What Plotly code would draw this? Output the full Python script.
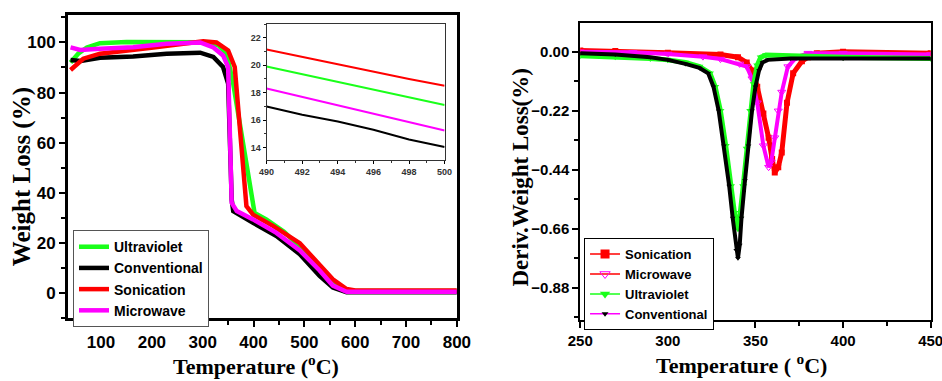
import plotly.graph_objects as go

# ---------------- TGA (left) ----------------
T_uv = [40, 55, 72, 98, 150, 200, 250, 300, 330, 347, 360, 380, 402, 425, 460, 491, 520, 556, 583, 600, 700, 800]
W_uv = [92, 95.5, 98, 99.7, 100.2, 100.2, 100.1, 100.1, 99, 95.5, 83.6, 58, 32, 29.4, 24.5, 18.5, 11.5, 4.5, 1.2, 0.8, 0.8, 0.8]

T_conv = [40, 60, 98, 163, 229, 295, 321, 340, 350, 353, 357, 360, 380, 399, 445, 491, 530, 556, 583, 600, 700, 800]
W_conv = [93, 92.6, 93.9, 94.4, 95.5, 95.9, 94.2, 90.2, 83.6, 63.8, 37.3, 32.7, 30.2, 28, 22.8, 15.5, 6.9, 2.2, 0.3, 0.3, 0.3, 0.3]

T_son = [40, 65, 98, 163, 203, 262, 301, 327, 350, 363, 370, 386, 399, 439, 491, 530, 556, 583, 600, 700, 800]
W_son = [89, 93.5, 95.5, 96.8, 98, 99.5, 100.5, 100, 96.8, 90.2, 73, 34.7, 31.3, 26.7, 19.9, 11.5, 5.5, 1.6, 1.0, 1.0, 1.0]

T_mw = [40, 59, 98, 163, 229, 268, 295, 321, 340, 350, 353, 357, 367, 399, 445, 491, 530, 556, 583, 600, 700, 800]
W_mw = [98, 97, 97.5, 98.1, 99.5, 100, 100, 98, 94.8, 90.2, 63.8, 36, 32.7, 29.4, 24, 17, 9, 3, 0.5, 0.5, 0.5, 0.5]

# inset (490-500 C)
T_in = [490, 492, 494, 496, 498, 500]
W_in_son = [21.15, 20.6, 20.05, 19.5, 19.0, 18.5]
W_in_uv = [19.9, 19.35, 18.8, 18.2, 17.65, 17.1]
W_in_mw = [18.3, 17.7, 17.1, 16.5, 15.85, 15.25]
W_in_conv = [17.0, 16.4, 15.9, 15.3, 14.6, 14.05]

# ---------------- DTG (right) ----------------
D_T_son = [250, 270, 300, 330, 340, 345, 348, 351, 354.5, 357.5, 359.5, 361, 363, 365, 368, 371.5, 376.5, 380, 385, 400, 450]
D_son = [0.005, 0.003, -0.003, -0.01, -0.02, -0.04, -0.07, -0.13, -0.23, -0.32, -0.40, -0.45, -0.43, -0.375, -0.19, -0.08, -0.035, -0.02, -0.005, 0.0, -0.005]

D_T_mw = [250, 280, 300, 320, 330, 341, 345, 348, 351, 354.5, 357.5, 359, 361, 363, 365, 368.5, 373.5, 380, 400, 450]
D_mw = [0.0, -0.002, -0.008, -0.018, -0.027, -0.045, -0.055, -0.1, -0.19, -0.35, -0.43, -0.41, -0.32, -0.22, -0.15, -0.055, -0.02, -0.005, -0.005, -0.01]

D_T_uv = [250, 270, 290, 300, 310, 318, 324, 327, 330, 333, 336, 338, 340, 341, 343, 345, 347, 349, 351, 353, 356, 370, 400, 450]
D_uv = [-0.015, -0.018, -0.025, -0.03, -0.04, -0.055, -0.08, -0.13, -0.22, -0.35, -0.5, -0.6, -0.66, -0.62, -0.5, -0.36, -0.22, -0.12, -0.05, -0.02, -0.012, -0.015, -0.02, -0.025]

D_T_conv = [250, 270, 290, 300, 310, 318, 323, 326, 329, 332, 335, 337, 339, 340, 341, 342, 344, 346, 348, 350, 352, 354, 357, 370, 400, 450]
D_conv = [-0.005, -0.01, -0.02, -0.03, -0.045, -0.06, -0.08, -0.13, -0.22, -0.35, -0.5, -0.62, -0.74, -0.77, -0.72, -0.62, -0.48, -0.35, -0.22, -0.13, -0.07, -0.04, -0.03, -0.025, -0.025, -0.025]

GREEN = "#1aff1a"
BLACK = "#000000"
RED = "#ff0000"
MAG = "#ff00ff"

fig = go.Figure()

# left panel
for name, xs, ys, col in [("Ultraviolet", T_uv, W_uv, GREEN),
                          ("Conventional", T_conv, W_conv, BLACK),
                          ("Sonication", T_son, W_son, RED),
                          ("Microwave", T_mw, W_mw, MAG)]:
    fig.add_trace(go.Scatter(x=xs, y=ys, mode="lines", name=name,
                             line=dict(color=col, width=4.5),
                             xaxis="x", yaxis="y", legend="legend"))

# inset
for xs, ys, col in [(T_in, W_in_son, RED), (T_in, W_in_uv, GREEN),
                    (T_in, W_in_mw, MAG), (T_in, W_in_conv, BLACK)]:
    fig.add_trace(go.Scatter(x=xs, y=ys, mode="lines", showlegend=False,
                             line=dict(color=col, width=2),
                             xaxis="x3", yaxis="y3"))

# right panel data
for xs, ys, col, sym, sz, lw in [(D_T_son, D_son, RED, "square", 6, 5),
                                 (D_T_mw, D_mw, MAG, "triangle-down-open", 7, 4),
                                 (D_T_uv, D_uv, GREEN, "triangle-down", 7, 5),
                                 (D_T_conv, D_conv, BLACK, "triangle-down", 5, 4)]:
    fig.add_trace(go.Scatter(x=xs, y=ys, mode="lines+markers", showlegend=False,
                             line=dict(color=col, width=lw),
                             marker=dict(color=col, symbol=sym, size=sz),
                             xaxis="x2", yaxis="y2"))

# right panel legend entries
for name, lcol, mcol, sym, sz in [("Sonication", RED, RED, "square", 9),
                                  ("Microwave", RED, MAG, "triangle-down-open", 9),
                                  ("Ultraviolet", GREEN, GREEN, "triangle-down", 9),
                                  ("Conventional", MAG, BLACK, "triangle-down", 6)]:
    fig.add_trace(go.Scatter(x=[None], y=[None], mode="lines+markers", name=name,
                             line=dict(color=lcol, width=1.5),
                             marker=dict(color=mcol, symbol=sym, size=sz),
                             xaxis="x2", yaxis="y2", legend="legend2"))

tickfont_main = dict(family="Liberation Sans", size=17, color="black", weight="bold")
tickfont_r = dict(family="Liberation Sans", size=15, color="black", weight="bold")
tickfont_in = dict(family="Liberation Sans", size=9, color="#333333", weight="bold")

def ax(**kw):
    base = dict(showgrid=False, zeroline=False, showline=True, mirror=True, automargin=False,
                linecolor="black", ticks="outside", tickcolor="black", ticklabeloverflow="allow")
    base.update(kw)
    return base

fig.update_layout(
    width=942, height=381,
    margin=dict(l=0, r=0, t=0, b=0),
    paper_bgcolor="white", plot_bgcolor="white",
    xaxis=ax(domain=[0.0722, 0.485], range=[35, 800], anchor="y",
             tick0=0, dtick=100, linewidth=3, ticklen=6, tickwidth=2,
             minor=dict(dtick=50, ticks="outside", ticklen=4, tickwidth=2, tickcolor="black"),
             tickfont=tickfont_main),
    yaxis=ax(domain=[0.165, 0.961], range=[-10, 111], anchor="x",
             tick0=0, dtick=20, linewidth=3, ticklen=6, tickwidth=2,
             minor=dict(dtick=10, ticks="outside", ticklen=4, tickwidth=2, tickcolor="black"),
             tickfont=tickfont_main),
    xaxis3=ax(domain=[0.283, 0.472], range=[490, 500], anchor="y3",
              tick0=490, dtick=2, linewidth=1, linecolor="#333333", ticklen=3, tickwidth=1,
              minor=dict(dtick=1, ticks="outside", ticklen=2, tickwidth=1, tickcolor="#333333"),
              tickfont=tickfont_in),
    yaxis3=ax(domain=[0.580, 0.937], range=[13.1, 23.0], anchor="x3",
              tick0=14, dtick=2, linewidth=1, linecolor="#333333", ticklen=3, tickwidth=1,
              minor=dict(dtick=1, ticks="outside", ticklen=2, tickwidth=1, tickcolor="#333333"),
              tickfont=tickfont_in),
    xaxis2=ax(domain=[0.616, 0.988], range=[250, 450], anchor="y2",
              tick0=250, dtick=50, linewidth=2, ticklen=6, tickwidth=2,
              minor=dict(dtick=25, ticks="outside", ticklen=4, tickwidth=2, tickcolor="black"),
              tickfont=tickfont_r),
    yaxis2=ax(domain=[0.160, 0.940], range=[-1.0, 0.108], anchor="x2",
              tick0=0, dtick=0.22, tickformat=".2f", linewidth=2, ticklen=6, tickwidth=2,
              minor=dict(dtick=0.11, ticks="outside", ticklen=4, tickwidth=2, tickcolor="black"),
              tickfont=tickfont_r),
    legend=dict(x=0.0775, y=0.396, xanchor="left", yanchor="top",
                bgcolor="white", bordercolor="#555555", borderwidth=1,
                font=dict(family="Liberation Sans", size=14, color="black", weight="bold"),
                tracegroupgap=0),
    legend2=dict(x=0.62, y=0.375, xanchor="left", yanchor="top",
                 bgcolor="white", bordercolor="black", borderwidth=1,
                 font=dict(family="Liberation Sans", size=13, color="black", weight="bold"),
                 tracegroupgap=0),
    annotations=[
        dict(text="Weight Loss (%)", xref="paper", yref="paper", x=22/942, y=0.535,
             textangle=-90, showarrow=False, xanchor="center", yanchor="middle",
             font=dict(family="Liberation Serif", size=25, color="black", weight="bold")),
        dict(text="Temperature (<sup>o</sup>C)", xref="paper", yref="paper", x=256/942, y=0,
             showarrow=False, xanchor="center", yanchor="bottom",
             font=dict(family="Liberation Serif", size=22, color="black", weight="bold")),
        dict(text="Deriv.Weight Loss(%)", xref="paper", yref="paper", x=521/942, y=0.534,
             textangle=-90, showarrow=False, xanchor="center", yanchor="middle",
             font=dict(family="Liberation Serif", size=23, color="black", weight="bold")),
        dict(text="Temperature ( <sup>o</sup>C)", xref="paper", yref="paper", x=741/942, y=1/381,
             showarrow=False, xanchor="center", yanchor="bottom",
             font=dict(family="Liberation Serif", size=22, color="black", weight="bold")),
    ],
)

fig.write_html("out.html")
